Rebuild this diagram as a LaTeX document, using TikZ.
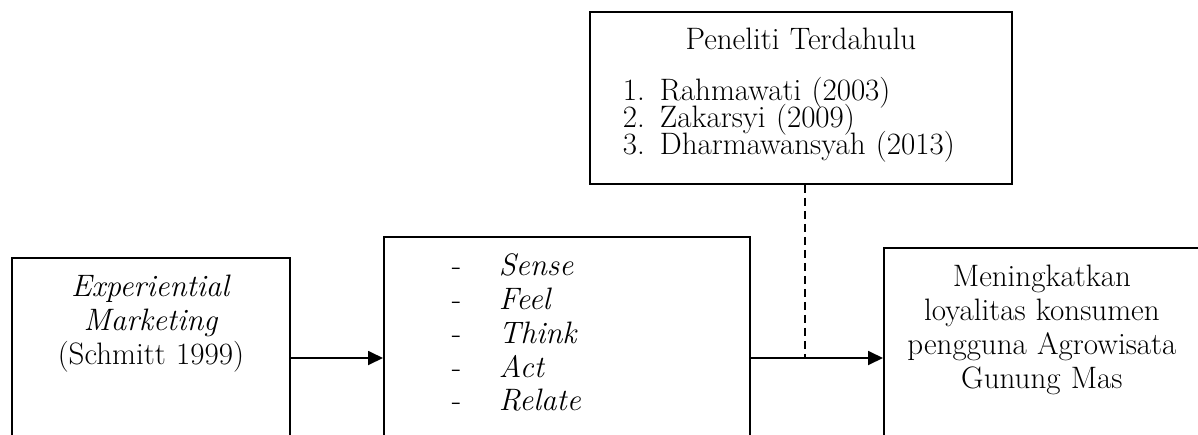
\documentclass[tikz,border=0pt]{standalone}
\usepackage{fontspec}
\usetikzlibrary{arrows.meta}
\tikzset{
  every picture/.style={line join=miter, >={Triangle[length=15pt,width=14pt]}},
  box/.style={draw, line width=1.8pt, inner xsep=0pt, inner ysep=0pt, anchor=north west,
    font=\fontsize{31}{33.7}\selectfont},
  link/.style={->, line width=1.8pt},
}
\newcommand{\dimline}[1]{\hspace*{68pt}\makebox[47pt][l]{-}\textit{#1}}
\newcommand{\refline}[2]{\rule[-7pt]{0pt}{20pt}\smash{\hspace*{33pt}\makebox[37pt][l]{#1}#2}}

\begin{document}
\begin{tikzpicture}[x=1pt,y=-1pt]
\useasboundingbox (0,0) rectangle (1198,434);
\clip (0,0) rectangle (1198,434);
% boxes
\node[box,text width=278pt,text height=39pt,text depth=154pt,align=center] (expm) at (11,257)
  {\textit{Experiential}\\ \textit{Marketing}\\ (Schmitt 1999)};
\node[box,text width=366pt,text height=39pt,text depth=175pt,align=left] (dims) at (383,236)
  {\dimline{Sense}\\ \dimline{Feel}\\ \dimline{Think}\\ \dimline{Act}\\ \dimline{Relate}};
\node[box,text width=316pt,text height=39pt,text depth=164pt,align=center] (loyal) at (883,247)
  {Meningkatkan\\ loyalitas konsumen\\ pengguna Agrowisata\\ Gunung Mas};
\node[box,text width=422pt,text height=38pt,text depth=134pt,align=left,
  font=\fontsize{31}{27}\selectfont] (peneliti) at (589,11)
  {\rule[-7pt]{0pt}{20pt}\smash{\makebox[422pt]{Peneliti Terdahulu}}\\[24pt]
   \refline{1.}{Rahmawati (2003)}\\
   \refline{2.}{Zakarsyi (2009)}\\
   \refline{3.}{Dharmawansyah (2013)}};
% connectors
\coordinate (lvl) at (0,358);
\coordinate (meet) at (805,358);
\draw[link] (expm.east |- lvl) -- (dims.west |- lvl);
\draw[link] (dims.east |- lvl) -- (loyal.west |- lvl);
\draw[line width=1.8pt,dash pattern=on 8pt off 5pt] (peneliti.south -| meet) -- (meet);
\end{tikzpicture}
\end{document}
